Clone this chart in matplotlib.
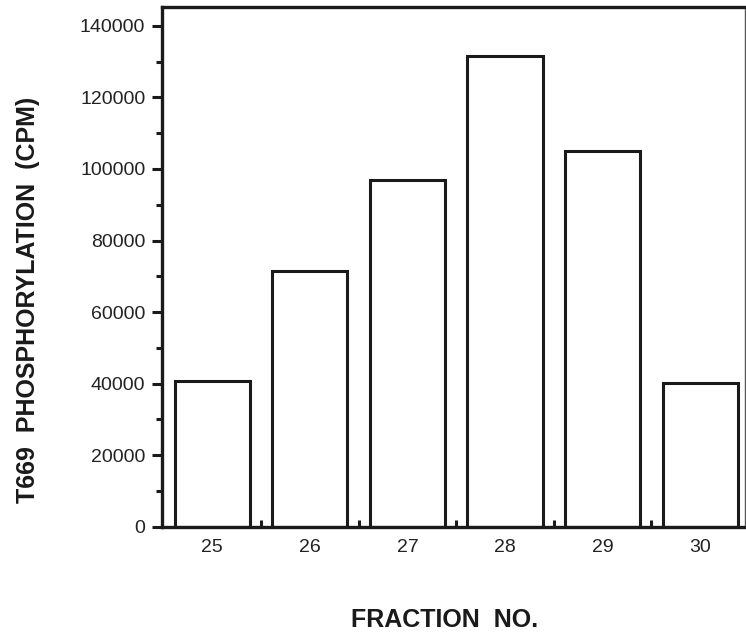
import matplotlib.pyplot as plt
from matplotlib.ticker import MultipleLocator, FixedLocator, NullFormatter

fractions = ['25', '26', '27', '28', '29', '30']
cpm = [40800, 71600, 96900, 131600, 105000, 40300]
y_ticks = [0, 20000, 40000, 60000, 80000, 100000, 120000, 140000]

plt.rcParams['font.family'] = ['Liberation Sans', 'DejaVu Sans']

fig = plt.figure(figsize=(7.46, 6.36), dpi=100)
ax = fig.add_axes([162 / 746, 1 - 526.7 / 636, 583 / 746, (526.7 - 7.3) / 636])

pos = list(range(len(fractions)))
ax.bar(pos, cpm, width=0.77, color='white', edgecolor='#1a1a1a', linewidth=2.2, zorder=2)

ax.set_xlim(-0.514, 5.459)
ax.set_ylim(0, 145200)

ax.set_yticks(y_ticks)
ax.set_yticklabels([str(v) for v in y_ticks])
ax.yaxis.set_minor_locator(MultipleLocator(10000))
ax.tick_params(axis='y', which='major', direction='out', length=7, width=2.2,
               labelsize=14, labelcolor='#222222', color='#1a1a1a', pad=5)
ax.tick_params(axis='y', which='minor', direction='out', length=4, width=2.2, color='#1a1a1a')

ax.set_xticks(pos)
ax.set_xticklabels(fractions)
ax.tick_params(axis='x', which='major', length=0, labelsize=14, labelcolor='#222222', pad=9)
ax.xaxis.set_minor_locator(FixedLocator([p + 0.5 for p in pos[:-1]]))
ax.xaxis.set_minor_formatter(NullFormatter())
ax.tick_params(axis='x', which='minor', direction='in', length=5, width=2.2, color='#1a1a1a')

for side in ['left', 'bottom', 'top']:
    ax.spines[side].set_linewidth(2.4)
    ax.spines[side].set_color('#1a1a1a')
ax.spines['right'].set_linewidth(1.0)
ax.spines['right'].set_color('#555555')

ax.set_ylabel('T669  PHOSPHORYLATION  (CPM)', fontsize=18, fontweight='bold', color='#1a1a1a')
ax.yaxis.set_label_coords(-(162 - 28) / 583, (526.7 - 300) / 519.4)
ax.set_xlabel('FRACTION  NO.', fontsize=18, fontweight='bold', color='#1a1a1a')
ax.xaxis.set_label_coords((445 - 162) / 583, -(620 - 526.7) / 519.4)
ax.xaxis.label.set_va('center')
ax.yaxis.label.set_va('center')

fig.savefig('out.png', dpi=100)
